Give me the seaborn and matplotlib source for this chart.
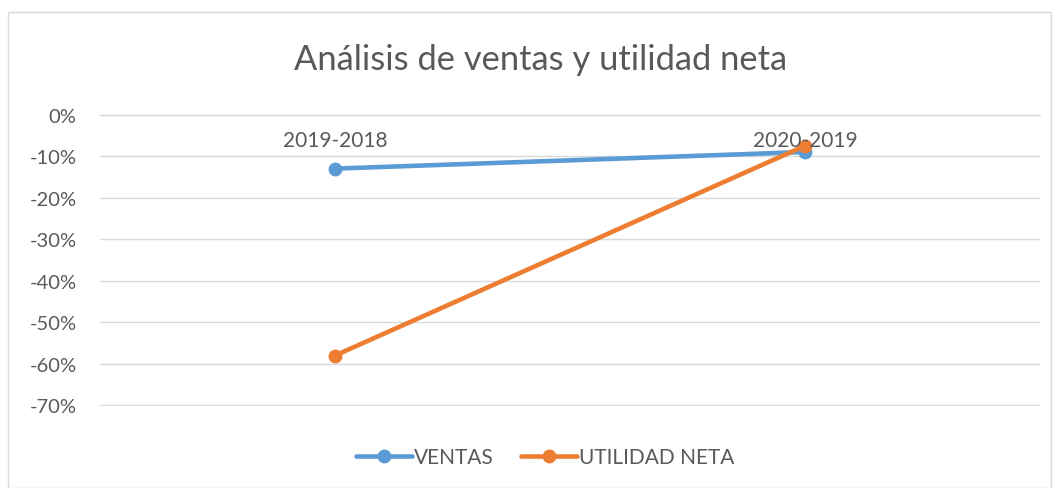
import matplotlib
matplotlib.use("Agg")
import matplotlib.pyplot as plt
import seaborn as sns
import pandas as pd
from matplotlib.patches import Rectangle
from matplotlib.lines import Line2D
from matplotlib.ticker import PercentFormatter

categories = ["2019-2018", "2020-2019"]
ventas = [-0.13, -0.09]
utilidad_neta = [-0.58, -0.075]
series_names = ["VENTAS", "UTILIDAD NETA"]
colors = ["#5B9BD5", "#ED7D31"]
yticks = [0, -0.1, -0.2, -0.3, -0.4, -0.5, -0.6, -0.7]

sns.set_style("white")
plt.rcParams['font.family'] = ['Lato', 'DejaVu Sans']
plt.rcParams['axes.unicode_minus'] = False

df = pd.DataFrame({
    "periodo": categories * 2,
    "valor": ventas + utilidad_neta,
    "serie": [series_names[0]] * 2 + [series_names[1]] * 2,
})

fig = plt.figure(figsize=(10.58, 4.89), dpi=100)
ax = fig.add_axes([100/1058, 1 - 407/489, 940/1058, 292/489])

sns.lineplot(data=df, x="periodo", y="valor", hue="serie", palette=colors,
             marker="o", markersize=10, linewidth=3.3, markeredgewidth=0,
             ax=ax, legend=False, sort=False)

ax.set_xlim(-0.5, 1.5)
ax.set_ylim(-0.7015, 0.0015)
ax.set_yticks(yticks)
ax.yaxis.set_major_formatter(PercentFormatter(1.0, decimals=0))
ax.grid(axis="y", color="#D9D9D9", linewidth=1)
ax.grid(axis="x", visible=False)
for s in ["top", "left", "right"]:
    ax.spines[s].set_visible(False)
ax.spines["bottom"].set_position(("data", 0))
ax.spines["bottom"].set_color("#D9D9D9")
ax.set_xlabel("")
ax.set_ylabel("")
ax.tick_params(axis="y", length=0, pad=17, labelsize=14.5, labelcolor="#595959")
ax.tick_params(axis="x", length=0, pad=11, labelsize=15, labelcolor="#595959")
ax.xaxis.set_zorder(5)

fig.text(541/1058, 1 - 60/489, "Análisis de ventas y utilidad neta", ha="center", va="center",
         fontsize=24.8, color="#595959")

handles = [Line2D([], [], color=c, marker="o", markersize=10, linewidth=3.3, markeredgewidth=0)
           for c in colors]
leg = fig.legend(handles, series_names, loc="center", bbox_to_anchor=(545/1058, 1 - 458/489),
                 ncol=2, frameon=False, fontsize=15, handlelength=2.7, columnspacing=1.3,
                 handletextpad=0.1)
for t in leg.get_texts():
    t.set_color("#595959")

fig.patches.append(Rectangle((8/1058, 0), 1043/1058, 1 - 13/489, transform=fig.transFigure,
                             fill=False, edgecolor="#D9D9D9", linewidth=1))

fig.savefig("out.png", dpi=100)
